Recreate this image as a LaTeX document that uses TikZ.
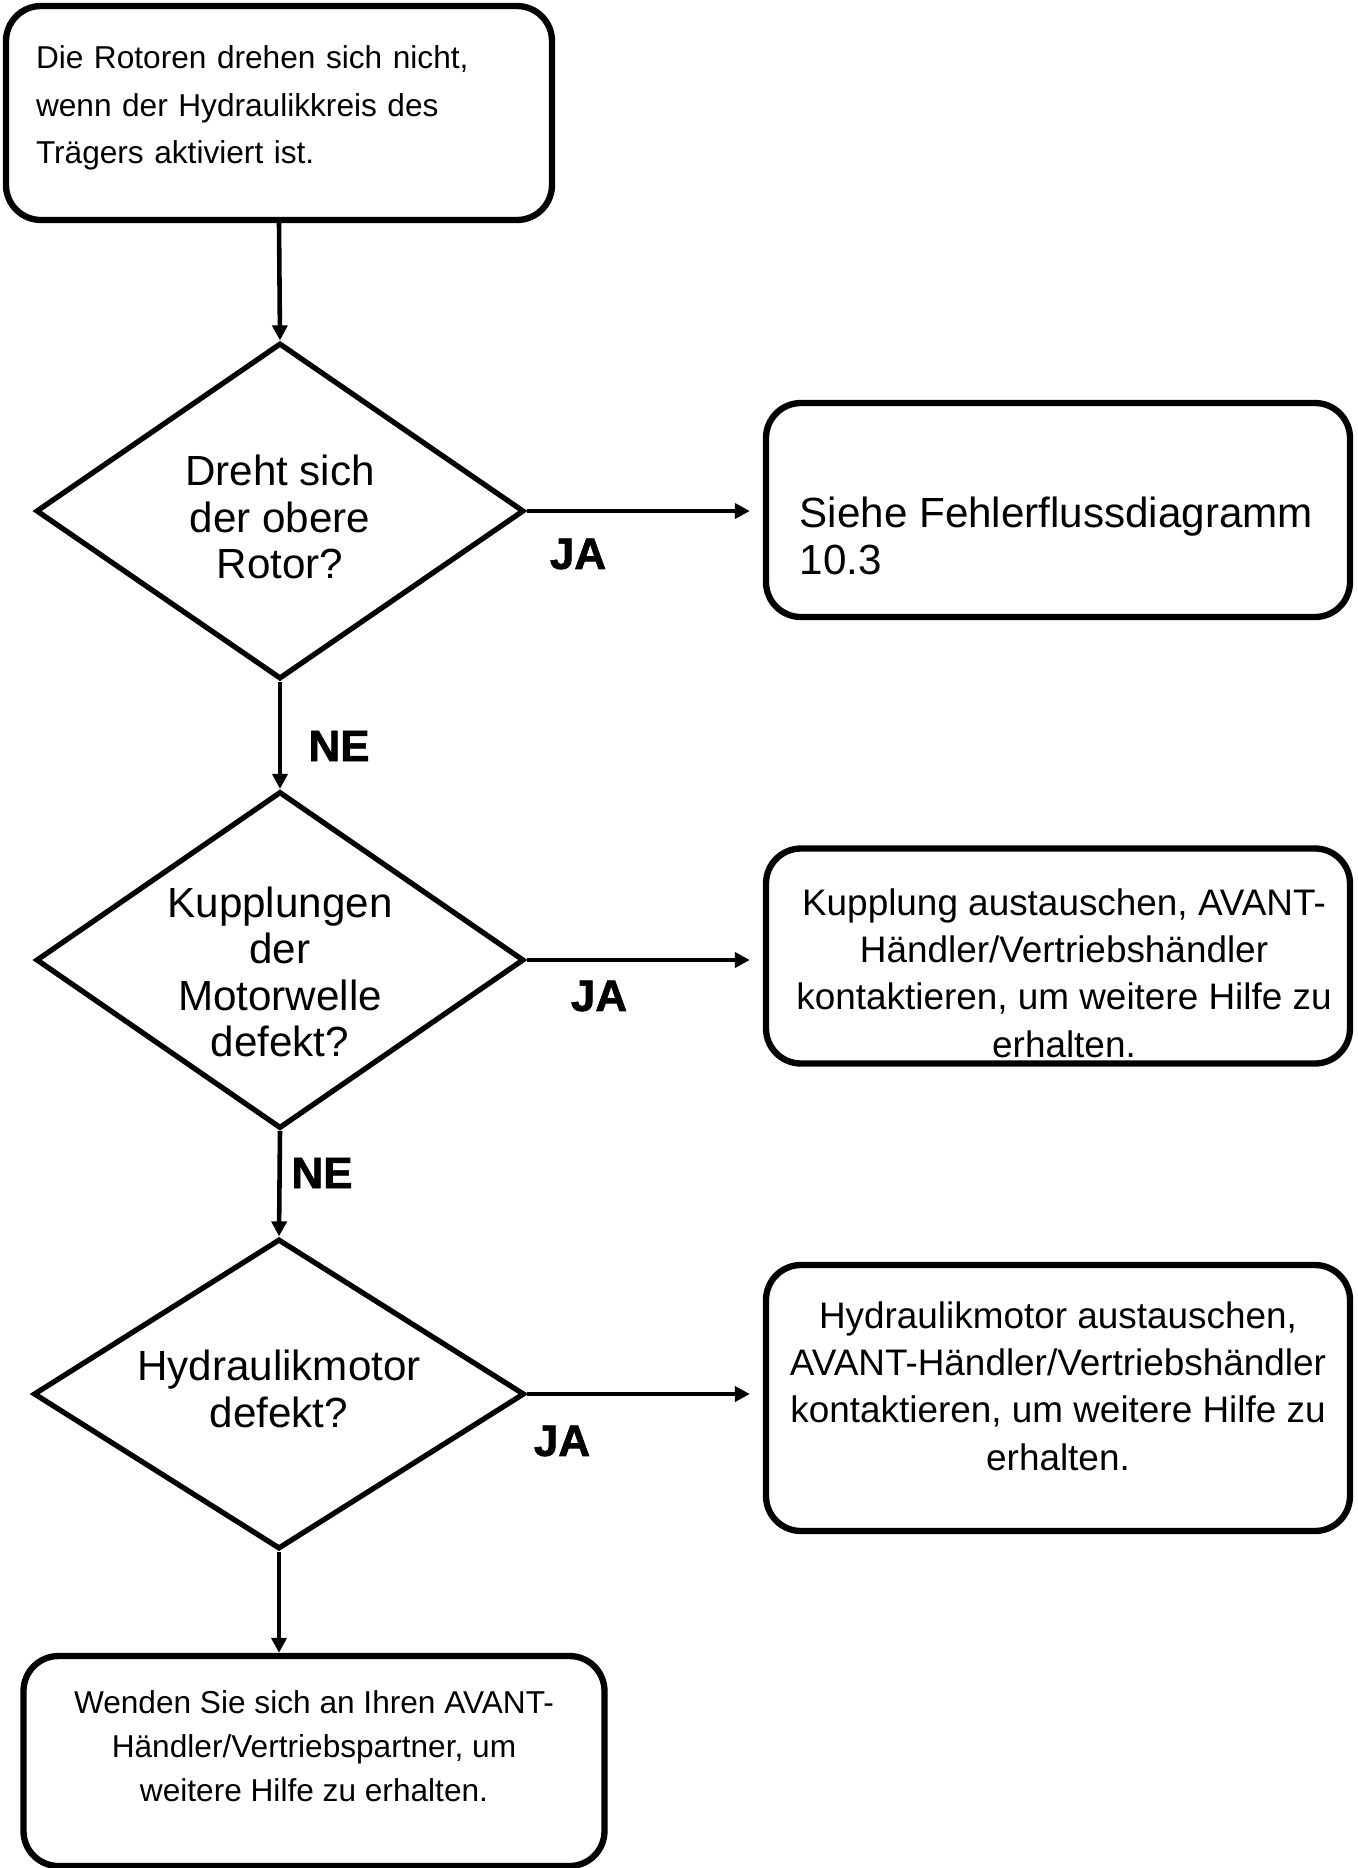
\documentclass[tikz,border=0pt]{standalone}
\usepackage{fontspec}
\setmainfont{Liberation Sans}
\newfontfamily\heavyfont[FakeBold=1.6]{Liberation Sans}
\usetikzlibrary{shapes.geometric,arrows.meta}

\begin{document}
\begin{tikzpicture}[x=0.1mm,y=-0.1mm,
  box/.style={draw, line width=1.8pt, rounded corners=3.5mm},
  query/.style={draw, diamond, line width=1.5pt, inner sep=0pt, aspect=1.45},
  qtext/.style={align=center, font=\fontsize{12}{13.2}\selectfont},
  atext/.style={align=center, font=\fontsize{10.5}{13.5}\selectfont},
  flow/.style={line width=1.3pt, -{Triangle[length=1.5mm,width=1.5mm]}},
  yesno/.style={font=\heavyfont\bfseries\fontsize{12.5}{14}\selectfont}]
\useasboundingbox (0,0) rectangle (1358,1868);

% start box
\node[box, minimum width=54.6mm, minimum height=21.4mm] (start) at (279,113) {};
\node[text width=48.6mm, align=left, font=\fontsize{9}{13.5}\selectfont] (starttext) at (279,108)
  {Die Rotoren drehen sich nicht,\\wenn der Hydraulikkreis des\\Trägers aktiviert ist.};

% the three questions
\node[query, minimum width=48.8mm, minimum height=33.6mm] (q1) at (280,511) {};
\node[qtext] (q1text) at (280,517) {Dreht sich\\der obere\\Rotor?};
\node[query, minimum width=48.8mm, minimum height=33.7mm] (q2) at (280,960) {};
\node[qtext] (q2text) at (280,972) {Kupplungen\\der\\Motorwelle\\defekt?};
\node[query, minimum width=49.1mm, minimum height=31mm] (q3) at (279,1394) {};
\node[qtext] (q3text) at (279,1389) {Hydraulikmotor\\defekt?};

% answers on the right
\node[box, minimum width=58.4mm, minimum height=21.4mm] (see) at (1058,510) {};
\node[anchor=west, align=left, inner sep=0pt, font=\fontsize{12}{13.5}\selectfont] (seetext) at (799,536)
  {Siehe Fehlerflussdiagramm\\10.3};
\node[box, minimum width=58.4mm, minimum height=21.5mm] (coupling) at (1058,956) {};
\node[atext] (couplingtext) at (1064,973)
  {Kupplung austauschen, AVANT-\\Händler/Vertriebshändler\\kontaktieren, um weitere Hilfe zu\\erhalten.};
\node[box, minimum width=58.4mm, minimum height=26.6mm] (motor) at (1058,1398) {};
\node[atext] (motortext) at (1058,1386)
  {Hydraulikmotor austauschen,\\AVANT-Händler/Vertriebshändler\\kontaktieren, um weitere Hilfe zu\\erhalten.};

% last box
\node[box, minimum width=58.1mm, minimum height=21mm] (dealer) at (314,1761) {};
\node[align=center, font=\fontsize{9}{12.5}\selectfont] (dealertext) at (314,1746)
  {Wenden Sie sich an Ihren AVANT-\\Händler/Vertriebspartner, um\\weitere Hilfe zu erhalten.};

% connectors
\draw[flow] (start.south) -- (q1.north);
\foreach \a/\b in {q1/q2,q2/q3} \draw[flow] (\a.south) -- (\b.north);
\foreach \q/\a in {q1/see,q2/coupling,q3/motor}
  \draw[flow, shorten >=1.3mm] (\q.east) -- (\q.east -| \a.west);
\draw[flow] (q3.south) -- (q3.south |- dealer.north);

% JA / NE
\foreach \n/\x/\y/\t in {ja1/578/554/JA,ja2/599/996/JA,ja3/562/1441/JA,ne1/339/746/NE,ne2/322/1173/NE}
  \node[yesno] (\n) at (\x,\y) {\t};

\end{tikzpicture}
\end{document}
